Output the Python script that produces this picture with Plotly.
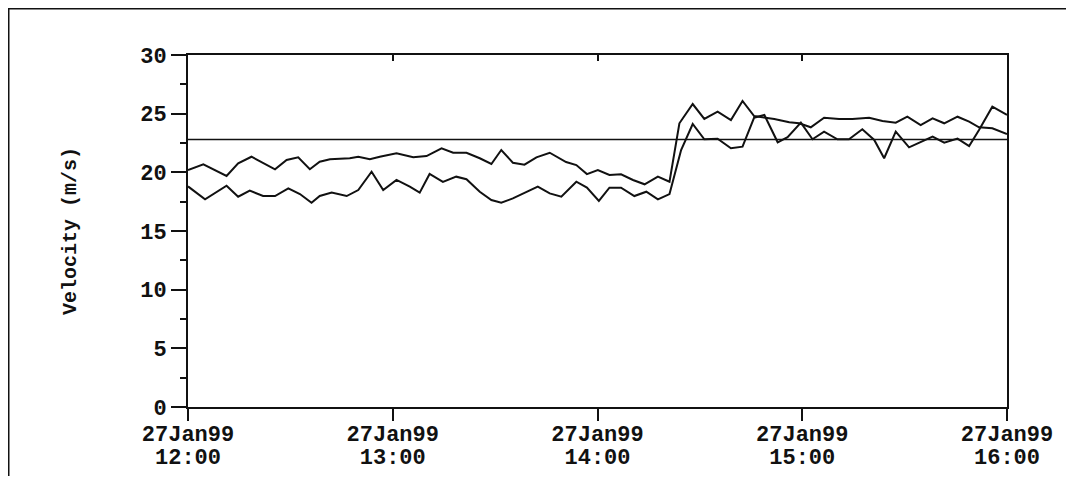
import pandas as pd
import plotly.graph_objects as go

# ---- data ----
base_time = "1999-01-27 12:00"

minutes_a = [0, 4.5, 11.3, 14.7, 18.6, 25.5, 28.9, 32.3, 35.7, 38.6, 41.6, 47.4, 49.9, 53.3,
             56.2, 61.1, 66.0, 69.9, 74.3, 77.7, 81.6, 85.5, 88.9, 91.8, 95.2, 98.6, 102.1,
             106.0, 110.8, 113.8, 116.9, 120.1, 123.5, 126.9, 130.4, 133.8, 137.7, 141.1,
             144.0, 147.9, 151.3, 155.2, 159.1, 162.5, 165.9, 171.8, 176.2, 179.1, 182.5,
             186.4, 190.8, 194.7, 199.6, 203.5, 207.4, 210.8, 214.7, 218.2, 221.6, 225.5,
             228.9, 231.8, 235.7, 240.0]
speed_a = [20.2, 20.68, 19.69, 20.77, 21.33, 20.26, 21.05, 21.28, 20.26, 20.91, 21.11, 21.2,
           21.33, 21.11, 21.33, 21.62, 21.28, 21.39, 22.05, 21.67, 21.67, 21.2, 20.71, 21.9,
           20.82, 20.65, 21.28, 21.67, 20.88, 20.62, 19.85, 20.2, 19.77, 19.83, 19.35, 18.98,
           19.63, 19.2, 24.18, 25.82, 24.55, 25.17, 24.46, 26.08, 24.8, 24.55, 24.26, 24.18,
           23.84, 24.66, 24.55, 24.55, 24.66, 24.38, 24.23, 24.74, 24.03, 24.6, 24.18, 24.74,
           24.32, 23.84, 23.75, 23.27]

minutes_b = [0, 5.0, 11.3, 14.7, 18.1, 22.0, 25.5, 29.4, 32.8, 36.2, 38.6, 42.1, 46.5, 49.9,
             53.8, 57.2, 61.1, 65.0, 67.9, 70.8, 74.7, 78.6, 81.6, 85.5, 88.9, 91.8, 95.2,
             99.1, 102.5, 106.0, 109.4, 113.8, 116.9, 120.4, 123.5, 126.9, 130.8, 134.3,
             137.7, 141.1, 144.5, 147.9, 151.3, 155.2, 159.1, 162.5, 165.9, 168.9, 172.8,
             175.7, 179.6, 183.0, 186.4, 190.3, 193.7, 197.6, 201.1, 204.0, 207.4, 211.3,
             218.2, 221.6, 225.5, 228.9, 231.8, 235.7, 240.0]
speed_b = [18.8, 17.7, 18.86, 17.92, 18.44, 17.98, 17.98, 18.64, 18.15, 17.41, 17.98, 18.27,
           17.98, 18.49, 20.05, 18.49, 19.35, 18.78, 18.27, 19.86, 19.18, 19.63, 19.41, 18.35,
           17.64, 17.41, 17.78, 18.35, 18.78, 18.21, 17.92, 19.2, 18.7, 17.56, 18.69, 18.69,
           17.98, 18.35, 17.7, 18.15, 21.9, 24.12, 22.82, 22.87, 22.05, 22.19, 24.66, 24.89,
           22.56, 22.99, 24.23, 22.82, 23.47, 22.82, 22.82, 23.67, 22.76, 21.2, 23.47, 22.13,
           23.04, 22.53, 22.87, 22.24, 23.61, 25.6, 24.89]

threshold = 22.8
tick_times = ["1999-01-27 12:00", "1999-01-27 13:00", "1999-01-27 14:00",
              "1999-01-27 15:00", "1999-01-27 16:00"]
tick_dates = ["27Jan99", "27Jan99", "27Jan99", "27Jan99", "27Jan99"]
tick_hours = ["12:00", "13:00", "14:00", "15:00", "16:00"]
y_title = "Velocity (m/s)"

t0 = pd.Timestamp(base_time)
time_a = [t0 + pd.Timedelta(minutes=m) for m in minutes_a]
time_b = [t0 + pd.Timedelta(minutes=m) for m in minutes_b]

FONT = "Liberation Mono"
INK = "#111111"
TICKFONT = dict(family=FONT, size=22, color=INK, weight="bold")

# layout geometry (figure pixels)
FIG_W, FIG_H = 1066, 468
M_L, M_R, M_T, M_B = 180, 67, 47, 45
LINE_GAP = 24                       # gap between the two tick-label lines
paper_h = FIG_H - M_T - M_B
y_dom0 = LINE_GAP / paper_h

fig = go.Figure()
fig.add_trace(go.Scatter(x=time_a, y=speed_a, mode="lines",
                         line=dict(color=INK, width=2), showlegend=False))
fig.add_trace(go.Scatter(x=time_b, y=speed_b, mode="lines",
                         line=dict(color=INK, width=2), showlegend=False))
fig.add_trace(go.Scatter(x=[tick_times[0], tick_times[-1]], y=[threshold, threshold],
                         mode="lines", line=dict(color=INK, width=1.6),
                         showlegend=False, xaxis="x2", yaxis="y"))
# invisible helper so the hour-label axis is drawn
fig.add_trace(go.Scatter(x=[tick_times[0], tick_times[-1]], y=[threshold, threshold],
                         mode="lines", line=dict(color="rgba(0,0,0,0)", width=0),
                         hoverinfo="skip", showlegend=False, xaxis="x3", yaxis="y"))

rng = [tick_times[0], tick_times[-1]]
fig.update_layout(
    width=FIG_W, height=FIG_H,
    margin=dict(l=M_L, r=M_R, t=M_T, b=M_B),
    paper_bgcolor="white", plot_bgcolor="white",
    font=dict(family=FONT, color=INK),
    xaxis=dict(type="date", range=rng, tickmode="array", tickvals=tick_times,
               ticktext=tick_dates, ticks="outside", ticklen=12, tickwidth=2,
               tickcolor=INK, showline=True, linecolor=INK, linewidth=2, mirror=True,
               showgrid=False, zeroline=False, automargin=False, tickfont=TICKFONT,
               ticklabelstandoff=-6, anchor="y"),
    xaxis2=dict(type="date", range=rng, overlaying="x", side="top", anchor="y",
                tickmode="array", tickvals=tick_times, ticks="inside", ticklen=6,
                tickwidth=2, tickcolor=INK, showticklabels=False, showgrid=False,
                showline=False, zeroline=False, automargin=False),
    xaxis3=dict(type="date", range=rng, overlaying="x", side="bottom", anchor="free",
                position=0, tickmode="array", tickvals=tick_times, ticktext=tick_hours,
                ticks="outside", ticklen=12, tickcolor="rgba(0,0,0,0)",
                ticklabelstandoff=-6, showgrid=False, showline=False, zeroline=False,
                automargin=False, tickfont=TICKFONT),
    yaxis=dict(domain=[y_dom0, 1], range=[0, 30], tickmode="linear", tick0=0, dtick=5,
               ticks="outside", ticklen=15, tickwidth=2, tickcolor=INK, showline=True,
               linecolor=INK, linewidth=2, mirror=True, showgrid=False, zeroline=False,
               automargin=False,
               minor=dict(dtick=2.5, ticks="outside", ticklen=6, tickwidth=1.5,
                          tickcolor=INK),
               tickfont=TICKFONT,
               title=dict(text=y_title, standoff=58,
                          font=dict(family=FONT, size=20, color=INK, weight="bold"))),
    shapes=[dict(type="rect", xref="paper", yref="paper",
                 x0=(0.5 - M_L) / (FIG_W - M_L - M_R), x1=1.2,
                 y0=-0.5, y1=(FIG_H - M_B - 0.5) / paper_h,
                 line=dict(color=INK, width=2),
                 fillcolor="rgba(0,0,0,0)", layer="below")],
)

fig.write_html("out.html")
